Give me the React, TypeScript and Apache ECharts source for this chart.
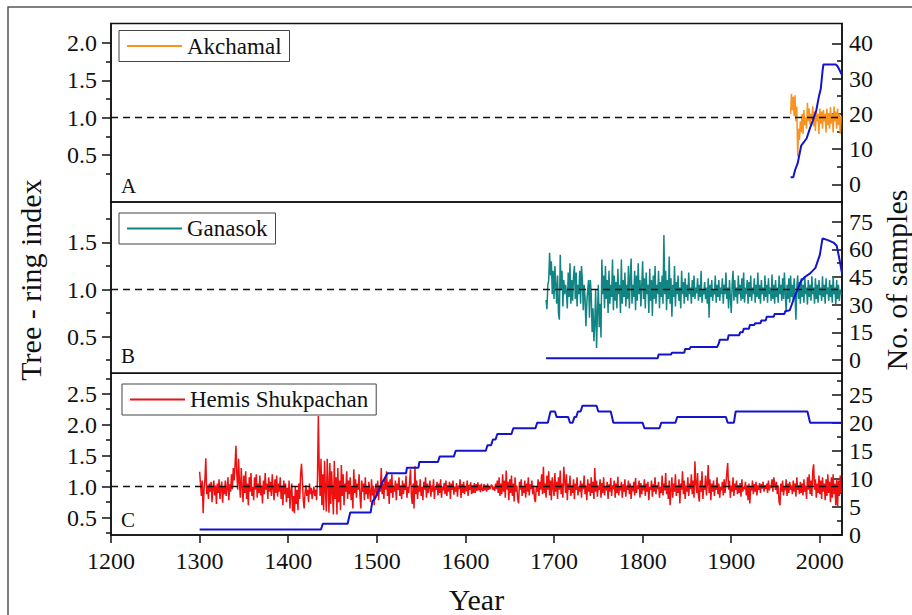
import React, { useEffect, useRef } from 'react';
import * as echarts from 'echarts';

const SERIF = '"Liberation Serif", "Times New Roman", serif';

// ---------- axes / ticks ----------
const YEAR_MIN = 1200;
const YEAR_MAX = 2025;
const yearTicks = [1200, 1300, 1400, 1500, 1600, 1700, 1800, 1900, 2000];

const ringTicksA = [0.5, 1.0, 1.5, 2.0];
const ringMinorA = [0.25, 0.75, 1.25, 1.75];
const depthTicksA = [0, 10, 20, 30, 40];
const depthMinorA = [5, 15, 25, 35];

const ringTicksB = [0.5, 1.0, 1.5];
const ringMinorB = [0.25, 0.75, 1.25, 1.75];
const depthTicksB = [0, 15, 30, 45, 60, 75];
const depthMinorB = [7.5, 22.5, 37.5, 52.5, 67.5];

const ringTicksC = [0.5, 1.0, 1.5, 2.0, 2.5];
const ringMinorC = [0.25, 0.75, 1.25, 1.75, 2.25, 2.75];
const depthTicksC = [0, 5, 10, 15, 20, 25];
const depthMinorC = [2.5, 7.5, 12.5, 17.5, 22.5, 27.5];

// ---------- A: Akchamal ----------
const akchamalStart = 1967;
const akchamalIndex = [
  1.05, 1.32, 1.10, 1.28, 1.02, 1.30, 0.95, 1.15, 0.48, 0.85,
  0.70, 0.95, 0.80, 1.05, 0.78, 1.10, 0.90, 1.00, 0.85, 1.20,
  0.95, 1.12, 0.90, 1.05, 0.97, 1.15, 0.88, 1.08, 0.82, 1.10,
  0.95, 1.05, 0.78, 1.12, 0.92, 1.08, 0.85, 1.10, 0.95, 1.05,
  0.80, 1.12, 0.90, 1.06, 0.85, 1.14, 0.92, 1.05, 0.80, 1.15,
  0.95, 1.08, 0.85, 1.12, 0.90, 1.05, 0.78, 1.02,
];
const akchamalSamples = [
  [1967, 2], [1970, 2], [1972, 4], [1975, 6], [1979, 11], [1985, 13], [1989, 16],
  [1992, 18], [1996, 21], [1999, 25], [2001, 27], [2003, 32], [2004, 34], [2018, 34],
  [2020, 33.5], [2023, 32], [2025, 31],
];

// ---------- B: Ganasok ----------
const ganasokStart = 1691;
const ganasokIndex = [
  0.89, 0.79, 1.05, 1.10, 1.39, 1.15, 1.30, 0.95, 1.20,
  0.90, 1.25, 1.05, 0.85, 1.15, 0.75, 0.68, 1.37, 1.00, 1.20,
  0.82, 1.10, 0.95, 1.05, 0.97, 0.80, 1.18, 0.92, 1.28, 0.85,
  1.10, 0.88, 1.15, 1.25, 0.90, 1.18, 0.82, 1.05, 0.95, 1.20,
  0.85, 1.25, 1.10, 0.78, 1.05, 0.92, 0.61, 0.85, 1.00, 1.10,
  0.70, 1.10, 0.95, 0.55, 0.80, 0.45, 0.65, 1.00, 0.38, 0.75,
  1.05, 0.60, 0.85, 0.49, 1.32, 0.95, 1.15, 0.80, 1.25, 0.90,
  1.10, 0.75, 1.20, 0.85, 1.05, 0.92, 1.32, 0.78, 1.15, 0.88,
  1.08, 0.80, 1.22, 0.95, 1.05, 0.75, 1.32, 0.85, 1.10, 0.92,
  1.18, 0.82, 1.05, 0.90, 1.25, 0.80, 1.12, 1.33, 0.85, 1.05,
  0.92, 1.20, 0.78, 1.15, 0.88, 1.28, 0.95, 1.10, 0.82, 1.05,
  1.30, 0.90, 1.12, 0.80, 1.18, 0.95, 1.05, 0.75, 1.22, 0.88,
  1.10, 0.72, 1.15, 0.90, 1.25, 0.85, 1.05, 0.95, 1.20, 0.80,
  1.08, 0.92, 1.15, 0.85, 1.58, 0.95, 1.20, 0.78, 1.10, 0.90,
  1.35, 0.85, 1.12, 0.71, 1.05, 0.92, 1.25, 0.82, 1.08, 0.95,
  1.15, 0.88, 1.02, 0.80, 1.20, 0.95, 1.08, 0.85, 1.12, 0.92,
  1.05, 0.88, 1.18, 0.95, 1.02, 0.85, 1.10, 0.92, 1.15, 0.90,
  1.02, 0.96, 1.12, 0.88, 1.05, 0.92, 1.20, 0.86, 1.00, 0.95,
  1.08, 0.90, 1.02, 0.85, 1.12, 0.70, 1.05, 0.92, 1.10, 0.88,
  1.00, 0.95, 1.15, 0.86, 1.05, 0.92, 1.10, 0.88, 1.02, 0.95,
  1.12, 0.85, 1.05, 0.95, 1.18, 0.90, 1.02, 0.80, 1.10, 0.92,
  0.75, 1.05, 1.20, 0.88, 1.10, 0.92, 1.02, 0.85, 1.15, 0.95,
  1.05, 0.88, 1.12, 0.90, 1.18, 0.86, 1.02, 0.95, 1.10, 0.85,
  1.08, 0.92, 1.15, 0.88, 1.02, 0.95, 1.12, 0.86, 1.05, 0.92,
  1.18, 0.90, 1.05, 0.85, 1.10, 0.95, 1.02, 0.88, 1.15, 0.92,
  1.05, 0.86, 1.12, 0.95, 1.02, 0.88, 1.16, 0.90, 1.05, 0.85,
  1.10, 0.92, 1.02, 0.86, 1.15, 0.95, 1.05, 0.88, 1.12, 0.90,
  1.18, 0.95, 0.76, 1.05, 0.90, 1.12, 0.86, 1.15, 0.92, 1.05,
  0.88, 1.12, 0.95, 0.68, 1.02, 1.15, 0.90, 1.08, 0.85, 1.12,
  0.92, 1.05, 0.86, 1.14, 0.95, 1.02, 0.84, 1.10, 0.92, 1.05,
  0.88, 1.14, 0.95, 1.02, 0.85, 1.12, 0.90, 1.05, 0.86, 1.10,
  0.94, 1.02, 0.88, 1.14, 0.92, 1.05, 0.85, 1.12, 0.95, 1.02,
  0.88, 1.10, 0.92, 1.05, 0.86, 1.14, 0.95, 1.02, 0.84, 1.10,
  0.90, 1.05, 0.88, 1.00, 0.95,
];
const ganasokSamples = [
  [1691, 1], [1817, 1], [1818, 3], [1832, 3], [1833, 4], [1847, 4], [1848, 6], [1853, 6],
  [1854, 7], [1884, 7], [1886, 9], [1887, 11], [1896, 11], [1897, 13.5], [1909, 13.5],
  [1910, 15], [1913, 15], [1914, 17], [1920, 17], [1921, 19], [1926, 19], [1927, 20],
  [1933, 20], [1934, 21.5], [1939, 21.5], [1940, 23.5], [1948, 23.5], [1949, 25],
  [1960, 25], [1961, 26.5], [1966, 27], [1972, 35], [1979, 43], [1983, 45], [1989, 47],
  [1995, 50], [2000, 57], [2003, 66], [2009, 65], [2016, 63.5], [2019, 62], [2022, 55],
  [2025, 47],
];

// ---------- C: Hemis Shukpachan ----------
const hemisStart = 1300;
const hemisIndex = [
  1.24, 1.05, 0.85, 1.10, 0.57, 0.95, 1.12, 1.46, 0.88, 1.02,
  0.80, 1.05, 0.92, 1.08, 0.75, 0.98, 1.10, 0.86, 1.02, 0.72,
  1.05, 0.90, 1.12, 0.80, 0.97, 1.08, 0.74, 1.00, 0.88, 1.10,
  0.85, 0.98, 1.15, 0.78, 1.04, 0.92, 1.20, 0.96, 1.30, 1.10,
  1.35, 1.66, 1.20, 0.95, 1.45, 1.05, 0.82, 1.30, 1.00, 0.75,
  1.18, 0.90, 1.25, 0.80, 1.05, 0.70, 1.15, 0.92, 1.22, 0.85,
  1.00, 0.78, 1.15, 0.95, 1.20, 0.82, 1.05, 0.90, 1.18, 0.86,
  1.02, 0.73, 1.10, 0.88, 1.22, 0.95, 1.05, 0.80, 1.15, 0.92,
  1.08, 0.85, 1.20, 0.96, 0.78, 1.12, 0.90, 1.18, 0.84, 1.05,
  0.92, 1.15, 0.80, 1.02, 0.70, 1.10, 0.88, 1.05, 0.75, 0.98,
  0.82, 1.10, 0.65, 0.92, 1.05, 0.60, 0.85, 0.57, 1.00, 0.72,
  0.95, 0.62, 1.05, 0.80, 1.20, 1.37, 1.10, 0.78, 0.65, 0.90,
  1.02, 0.85, 0.95, 0.75, 1.05, 0.88, 0.98, 0.80, 0.92, 1.00,
  0.85, 0.95, 0.78, 1.10, 2.14, 1.30, 0.85, 1.45, 0.70, 1.20,
  0.62, 1.42, 0.95, 0.60, 1.45, 1.05, 0.58, 1.38, 0.72, 1.25,
  0.90, 0.55, 1.42, 0.80, 1.15, 0.55, 1.30, 0.75, 1.10, 0.62,
  1.35, 0.85, 1.20, 0.70, 1.05, 0.92, 1.25, 0.80, 1.10, 0.88,
  1.15, 0.78, 1.00, 0.65, 1.28, 0.90, 1.12, 0.82, 1.05, 0.95,
  1.20, 0.85, 0.65, 1.10, 0.92, 1.05, 0.78, 1.15, 0.88, 1.00,
  0.80, 1.08, 0.92, 0.75, 1.12, 0.86, 1.02, 0.70, 0.95, 1.05,
  0.85, 1.10, 0.78, 1.02, 0.92, 1.30, 0.88, 1.05, 0.80, 1.15,
  0.95, 1.25, 0.85, 1.08, 0.72, 1.12, 0.90, 1.20, 0.82, 1.02,
  0.92, 1.10, 0.78, 1.05, 0.95, 1.15, 0.85, 1.02, 0.80, 1.10,
  0.88, 1.05, 0.95, 1.18, 0.82, 1.00, 0.90, 1.08, 1.28, 0.85,
  0.72, 1.05, 0.65, 1.33, 0.88, 1.10, 0.80, 1.02, 0.92, 1.12,
  0.85, 1.00, 0.78, 1.08, 0.95, 1.15, 0.82, 1.05, 0.90, 0.98,
  1.10, 0.84, 1.02, 0.92, 1.12, 0.80, 1.00, 0.95, 1.08, 0.86,
  1.05, 0.90, 1.12, 0.82, 1.00, 0.94, 1.06, 0.88, 1.10, 0.85,
  1.02, 0.92, 1.08, 0.80, 1.05, 0.95, 1.10, 0.87, 1.00, 0.92,
  1.06, 0.84, 1.02, 0.96, 1.12, 0.82, 1.04, 0.90, 1.08, 0.88,
  1.00, 0.93, 1.10, 0.85, 1.03, 0.95, 1.07, 0.88, 1.02, 0.90,
  1.06, 0.90, 1.04, 0.93, 1.07, 0.94, 1.03, 0.91, 1.05, 0.95,
  0.93, 1.04, 0.94, 1.02, 0.92, 1.05, 0.95, 0.99, 0.96, 1.03,
  1.02, 0.95, 1.00, 0.93, 1.05, 0.96, 1.10, 0.90, 1.15, 0.85,
  1.05, 0.88, 1.20, 0.92, 1.10, 0.82, 1.26, 0.95, 1.08, 0.78,
  1.12, 0.90, 1.18, 0.85, 1.05, 0.76, 1.15, 0.92, 1.02, 0.80,
  0.73, 1.08, 0.95, 1.12, 0.85, 1.00, 0.90, 1.10, 0.82, 1.05,
  0.92, 1.15, 0.86, 1.04, 0.96, 1.10, 0.88, 1.02, 0.80, 0.75,
  1.00, 0.92, 1.12, 0.85, 1.08, 0.95, 1.20, 0.88, 1.32, 0.90,
  1.05, 0.82, 1.18, 0.95, 1.25, 0.86, 1.10, 0.78, 1.15, 1.00,
  0.85, 1.22, 0.92, 1.08, 0.80, 1.15, 0.95, 1.26, 0.88, 1.05,
  0.82, 1.32, 1.10, 0.90, 1.20, 0.78, 1.05, 0.95, 1.18, 0.85,
  1.02, 0.90, 1.12, 0.80, 1.05, 0.95, 1.15, 0.86, 1.00, 0.92,
  1.10, 0.82, 1.05, 0.96, 1.18, 0.88, 1.02, 0.78, 1.12, 0.92,
  1.05, 0.85, 1.15, 0.90, 1.08, 0.80, 1.30, 0.92, 1.10, 0.84,
  1.02, 0.95, 1.12, 0.82, 1.06, 0.90, 1.15, 0.86, 1.00, 0.94,
  1.08, 0.80, 1.04, 0.92, 1.14, 0.85, 1.02, 0.96, 1.10, 0.82,
  1.05, 0.90, 1.16, 0.86, 1.00, 0.94, 1.08, 0.82, 1.04, 0.92,
  1.12, 0.84, 1.02, 0.95, 1.10, 0.88, 1.05, 0.80, 1.00, 0.93,
  1.08, 0.86, 1.14, 0.90, 1.02, 0.96, 1.10, 0.82, 1.06, 0.88,
  1.02, 0.94, 1.12, 0.85, 1.05, 0.92, 1.08, 0.78, 1.00, 0.95,
  1.10, 0.84, 1.04, 0.92, 1.15, 0.88, 1.02, 0.96, 1.08, 0.82,
  1.00, 0.90, 1.18, 0.86, 1.05, 0.94, 1.22, 0.88, 1.02, 0.80,
  1.10, 0.70, 0.95, 1.15, 0.82, 1.05, 0.92, 1.20, 0.85, 1.02,
  0.90, 1.12, 0.73, 1.05, 0.95, 1.25, 0.88, 1.10, 0.80, 1.02,
  0.92, 1.15, 0.85, 1.05, 0.96, 1.20, 0.88, 1.10, 0.82, 1.41,
  1.05, 0.90, 1.22, 0.85, 0.76, 1.10, 0.92, 1.25, 0.80, 1.02,
  0.95, 1.18, 0.86, 1.05, 1.35, 0.90, 1.12, 0.78, 1.05, 0.92,
  1.10, 0.85, 1.02, 0.95, 1.15, 0.88, 1.05, 0.82, 1.00, 0.94,
  1.08, 0.86, 1.12, 0.90, 1.05, 1.22, 1.38, 0.95, 1.10, 0.82,
  1.02, 0.92, 1.15, 0.85, 1.05, 0.95, 1.10, 0.88, 1.02, 0.90,
  1.06, 0.84, 1.12, 0.92, 1.00, 0.96, 1.08, 0.86, 1.02, 0.78,
  1.05, 0.73, 1.00, 0.94, 1.10, 0.88, 1.04, 0.92, 1.08, 0.86,
  1.02, 0.95, 1.06, 0.90, 1.04, 0.97, 1.08, 0.92, 1.02, 0.96,
  1.05, 0.90, 1.10, 0.94, 1.02, 0.98, 1.12, 0.92, 1.15, 1.05,
  0.95, 1.08, 0.88, 1.02, 0.75, 0.70, 1.05, 0.92, 1.10, 0.86,
  1.00, 0.94, 1.12, 0.85, 1.05, 0.90, 1.08, 0.95, 1.02, 0.88,
  1.10, 0.92, 1.05, 0.84, 1.15, 0.95, 1.02, 0.88, 1.08, 0.90,
  1.05, 0.86, 1.12, 0.92, 1.02, 0.80, 1.15, 0.95, 1.20, 0.88,
  1.10, 0.85, 1.25, 1.36, 0.95, 1.12, 0.82, 1.05, 0.90, 1.18,
  0.88, 1.10, 0.80, 1.15, 0.92, 1.05, 0.78, 1.12, 0.85, 1.20,
  0.90, 1.08, 0.75, 1.15, 0.82, 1.20, 0.88, 1.05, 0.70, 1.12,
  0.68, 1.10, 0.85, 1.18, 0.90,
];
const hemisSamples = [
  [1300, 1], [1437, 1], [1439, 2], [1467, 2], [1470, 4], [1493, 4], [1495, 6], [1498, 6.5],
  [1505, 9], [1512, 11], [1533, 11], [1534, 12], [1547, 12], [1548, 13], [1569, 13],
  [1571, 14], [1587, 14], [1589, 15], [1623, 15], [1625, 16], [1629, 16], [1631, 17],
  [1634, 17], [1636, 18], [1652, 18], [1654, 19], [1679, 19], [1681, 20], [1693, 20],
  [1696, 22], [1701, 22], [1703, 21], [1716, 21], [1718, 20], [1721, 20], [1723, 21],
  [1725, 21], [1727, 22], [1730, 22], [1732, 23], [1748, 23], [1750, 22], [1764, 22],
  [1767, 20], [1800, 20], [1802, 19], [1819, 19], [1821, 20], [1837, 20], [1839, 21],
  [1894, 21], [1896, 20], [1903, 20], [1905, 22], [1986, 22], [1989, 20], [2025, 20],
];

const toPairs = (start: number, vals: number[]) => vals.map((v, i) => [start + i, v]);

const RING_COLORS = ['#F7931E', '#118583', '#EE1111'];
const DEPTH_COLOR = '#1414CC';
const INK = '#111';

const panels = [
  {
    name: 'Akchamal', letter: 'A', start: akchamalStart, values: akchamalIndex, samples: akchamalSamples,
    ringMin: -0.13, ringMax: 2.26, ringTicks: ringTicksA, ringMinor: ringMinorA,
    depthMin: -5, depthMax: 45.6, depthTicks: depthTicksA, depthMinor: depthMinorA,
    top: 23.5, height: 178.5, legendLeft: 119, legendTop: 30.5, letterY: 186,
  },
  {
    name: 'Ganasok', letter: 'B', start: ganasokStart, values: ganasokIndex, samples: ganasokSamples,
    ringMin: 0.11, ringMax: 1.93, ringTicks: ringTicksB, ringMinor: ringMinorB,
    depthMin: -7.2, depthMax: 85.7, depthTicks: depthTicksB, depthMinor: depthMinorB,
    top: 202, height: 171.3, legendLeft: 119, legendTop: 213, letterY: 356.5,
  },
  {
    name: 'Hemis Shukpachan', letter: 'C', start: hemisStart, values: hemisIndex, samples: hemisSamples,
    ringMin: 0.22, ringMax: 2.83, ringTicks: ringTicksC, ringMinor: ringMinorC,
    depthMin: 0, depthMax: 28.8, depthTicks: depthTicksC, depthMinor: depthMinorC,
    top: 373.3, height: 162.4, legendLeft: 122, legendTop: 384, letterY: 520,
  },
];

const labelStyle = { fontFamily: SERIF, fontSize: 24, color: INK };

function buildOption() {
  const grid: any[] = [];
  const xAxis: any[] = [];
  const yAxis: any[] = [];
  const series: any[] = [];
  const legend: any[] = [];
  const graphic: any[] = [];

  panels.forEach((p, i) => {
    const isLast = i === panels.length - 1;
    grid.push({
      left: 111, width: 731, top: p.top, height: p.height,
      show: true, borderColor: INK, borderWidth: 1.5, backgroundColor: 'transparent',
    });
    xAxis.push({
      gridIndex: i, type: 'value', min: YEAR_MIN, max: YEAR_MAX, position: 'bottom',
      axisLine: { show: isLast, onZero: false, lineStyle: { color: INK, width: 1.5 } },
      axisTick: { show: isLast, length: 8, customValues: yearTicks, lineStyle: { color: INK, width: 1.5 } },
      axisLabel: { show: isLast, customValues: yearTicks, margin: 14, formatter: (v: number) => String(v), ...labelStyle },
      splitLine: { show: false },
      name: isLast ? 'Year' : '',
      nameLocation: 'middle',
      nameGap: 49,
      nameTextStyle: { fontFamily: SERIF, fontSize: 30, color: INK },
    });
    const base = i * 4;
    yAxis.push({
      gridIndex: i, type: 'value', position: 'left', min: p.ringMin, max: p.ringMax,
      axisLine: { show: true, onZero: false, lineStyle: { color: INK, width: 1.5 } },
      axisTick: { show: true, length: 9, customValues: p.ringTicks, lineStyle: { color: INK, width: 1.5 } },
      axisLabel: { show: true, customValues: p.ringTicks, margin: 14, formatter: (v: number) => v.toFixed(1), ...labelStyle },
      splitLine: { show: false },
    });
    yAxis.push({
      gridIndex: i, type: 'value', position: 'left', min: p.ringMin, max: p.ringMax,
      axisLine: { show: false },
      axisTick: { show: true, length: 5, customValues: p.ringMinor, lineStyle: { color: INK, width: 1.5 } },
      axisLabel: { show: false },
      splitLine: { show: false },
    });
    yAxis.push({
      gridIndex: i, type: 'value', position: 'right', min: p.depthMin, max: p.depthMax,
      axisLine: { show: true, onZero: false, lineStyle: { color: INK, width: 1.5 } },
      axisTick: { show: true, inside: true, length: 10, customValues: p.depthTicks, lineStyle: { color: INK, width: 1.5 } },
      axisLabel: { show: true, customValues: p.depthTicks, margin: 7, formatter: (v: number) => String(v), ...labelStyle },
      splitLine: { show: false },
    });
    yAxis.push({
      gridIndex: i, type: 'value', position: 'right', min: p.depthMin, max: p.depthMax,
      axisLine: { show: false },
      axisTick: { show: true, inside: true, length: 5, customValues: p.depthMinor, lineStyle: { color: INK, width: 1.5 } },
      axisLabel: { show: false },
      splitLine: { show: false },
    });

    series.push({
      name: p.name, type: 'line', xAxisIndex: i, yAxisIndex: base,
      data: toPairs(p.start, p.values), symbol: 'none', color: RING_COLORS[i],
      itemStyle: { color: RING_COLORS[i] },
      lineStyle: { color: RING_COLORS[i], width: 1.5 }, z: 2,
    });
    series.push({
      name: p.name + ' samples', type: 'line', xAxisIndex: i, yAxisIndex: base + 2,
      data: p.samples, symbol: 'none', color: DEPTH_COLOR,
      lineStyle: { color: DEPTH_COLOR, width: 2 }, z: 3,
    });
    series.push({
      name: p.name + ' mean', type: 'line', xAxisIndex: i, yAxisIndex: base,
      data: [[YEAR_MIN, 1]], symbol: 'none', lineStyle: { opacity: 0 }, z: 4,
      markLine: {
        silent: true, symbol: 'none', label: { show: false },
        lineStyle: { color: INK, width: 1.3, type: [7, 5] },
        data: [{ yAxis: 1 }],
      },
    });

    legend.push({
      data: [p.name], left: p.legendLeft, top: p.legendTop, orient: 'horizontal',
      icon: 'rect', itemWidth: 55, itemHeight: 2, padding: [4, 8, 4, 8],
      borderColor: '#444', borderWidth: 1, selectedMode: false,
      textStyle: { fontFamily: SERIF, fontSize: 23, color: INK },
    });

    graphic.push({
      type: 'text', left: 121, top: p.letterY - 11,
      style: { text: p.letter, font: `21px ${SERIF}`, fill: INK },
    });
  });

  graphic.push({
    type: 'rect', shape: { x: 8, y: 7, width: 920, height: 700 },
    style: { fill: 'none', stroke: '#555', lineWidth: 1.5 }, z: 0,
  });
  graphic.push({
    type: 'text', x: 30, y: 280, rotation: Math.PI / 2,
    style: { text: 'Tree - ring index', font: `30px ${SERIF}`, fill: INK, align: 'center', verticalAlign: 'middle' },
  });
  graphic.push({
    type: 'text', x: 896, y: 280, rotation: Math.PI / 2,
    style: { text: 'No. of samples', font: `30px ${SERIF}`, fill: INK, align: 'center', verticalAlign: 'middle' },
  });

  return {
    animation: false,
    backgroundColor: '#fff',
    textStyle: { fontFamily: SERIF },
    grid, xAxis, yAxis, series, legend, graphic,
  };
}

export default function App() {
  const ref = useRef<HTMLDivElement>(null);
  useEffect(() => {
    if (!ref.current) return;
    const chart = echarts.init(ref.current, undefined, { renderer: 'svg' });
    chart.setOption(buildOption() as any);
    return () => chart.dispose();
  }, []);
  return <div ref={ref} style={{ position: 'absolute', left: 0, top: 0, width: 912, height: 615 }} />;
}
